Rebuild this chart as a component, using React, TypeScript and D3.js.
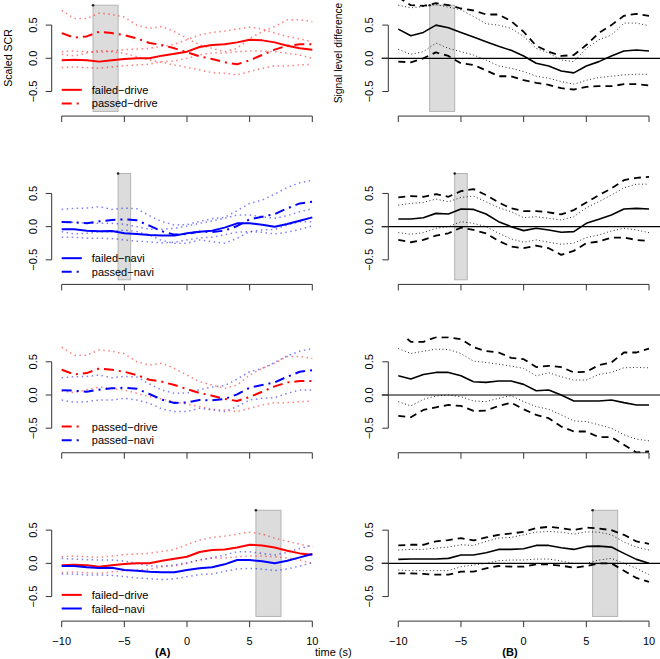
import React from 'react';
import * as d3 from 'd3';

// seconds relative to event
const times = [-10, -9, -8, -7, -6, -5, -4, -3, -2, -1, 0, 1, 2, 3, 4, 5, 6, 7, 8, 9, 10];
const yTicks = [-0.5, 0, 0.5];
const xTicks = [-10, -5, 0, 5, 10];

// (A) scaled SCR, mean and CI bounds
const failedDrive = [-0.03, -0.02, -0.03, -0.05, -0.03, -0.01, 0.0, 0.0, 0.04, 0.07, 0.1, 0.17, 0.2, 0.21, 0.24, 0.28, 0.27, 0.24, 0.19, 0.15, 0.13];
const failedDriveHi = [0.1, 0.11, 0.1, 0.09, 0.11, 0.13, 0.14, 0.15, 0.18, 0.21, 0.28, 0.35, 0.39, 0.41, 0.44, 0.47, 0.44, 0.38, 0.33, 0.29, 0.25];
const failedDriveLo = [-0.14, -0.13, -0.14, -0.15, -0.13, -0.11, -0.1, -0.09, -0.05, -0.04, 0.0, 0.05, 0.08, 0.08, 0.1, 0.11, 0.11, 0.1, 0.08, 0.05, 0.0];

const passedDrive = [0.38, 0.31, 0.33, 0.4, 0.38, 0.35, 0.3, 0.23, 0.2, 0.15, 0.09, 0.03, -0.01, -0.06, -0.09, -0.03, 0.05, 0.13, 0.19, 0.21, 0.21];
const passedDriveHi = [0.72, 0.6, 0.6, 0.68, 0.66, 0.62, 0.5, 0.45, 0.48, 0.4, 0.3, 0.2, 0.15, 0.1, 0.15, 0.3, 0.4, 0.48, 0.58, 0.58, 0.55];
const passedDriveLo = [0.06, 0.035, 0.08, 0.12, 0.1, 0.075, 0.025, -0.025, -0.06, -0.1, -0.135, -0.175, -0.215, -0.225, -0.25, -0.2, -0.15, -0.115, -0.115, -0.1, -0.09];

const failedNavi = [-0.04, -0.04, -0.06, -0.07, -0.065, -0.1, -0.11, -0.125, -0.135, -0.135, -0.1, -0.075, -0.06, -0.015, 0.05, 0.05, 0.03, 0.0, 0.04, 0.09, 0.14];
const failedNaviHi = [0.075, 0.065, 0.055, 0.05, 0.05, 0.035, 0.0, -0.04, -0.04, -0.025, 0.01, 0.05, 0.085, 0.125, 0.175, 0.175, 0.15, 0.125, 0.165, 0.225, 0.27];
const failedNaviLo = [-0.16, -0.16, -0.175, -0.175, -0.18, -0.2, -0.22, -0.23, -0.245, -0.235, -0.2, -0.17, -0.16, -0.12, -0.085, -0.075, -0.085, -0.11, -0.085, -0.04, 0.01];

const passedNavi = [0.07, 0.065, 0.05, 0.08, 0.1, 0.11, 0.095, 0.015, -0.07, -0.12, -0.11, -0.075, -0.08, -0.06, 0.01, 0.11, 0.15, 0.19, 0.275, 0.35, 0.375];
const passedNaviHi = [0.26, 0.275, 0.28, 0.3, 0.26, 0.28, 0.27, 0.165, 0.075, 0.025, 0.03, 0.08, 0.12, 0.14, 0.24, 0.35, 0.4, 0.49, 0.59, 0.66, 0.7];
const passedNaviLo = [-0.075, -0.11, -0.1, -0.075, -0.075, -0.05, -0.075, -0.125, -0.21, -0.25, -0.25, -0.2, -0.225, -0.25, -0.175, -0.075, -0.05, -0.04, 0.025, 0.075, 0.075];

// (B) signal level difference: mean, inner (dotted) and outer (dashed) bounds
const d1Mean = [0.44, 0.34, 0.39, 0.5, 0.46, 0.39, 0.32, 0.25, 0.18, 0.12, 0.035, -0.075, -0.115, -0.19, -0.22, -0.115, -0.05, 0.035, 0.11, 0.125, 0.11];
const d1DotHi = [0.8, 0.76, 0.78, 0.81, 0.77, 0.73, 0.63, 0.52, 0.5, 0.45, 0.33, 0.15, 0.08, -0.025, -0.05, 0.15, 0.28, 0.35, 0.53, 0.53, 0.49];
const d1DashHi = [0.92, 0.8, 0.79, 0.83, 0.8, 0.75, 0.72, 0.66, 0.66, 0.56, 0.4, 0.19, 0.1, 0.035, 0.05, 0.2, 0.38, 0.5, 0.64, 0.67, 0.64];
const d1DotLo = [0.135, 0.06, 0.1, 0.23, 0.15, 0.1, 0.05, -0.025, -0.115, -0.15, -0.2, -0.27, -0.3, -0.35, -0.39, -0.33, -0.29, -0.27, -0.25, -0.24, -0.24];
const d1DashLo = [-0.05, -0.06, 0.0, 0.09, 0.035, -0.075, -0.1, -0.18, -0.27, -0.27, -0.33, -0.37, -0.4, -0.45, -0.47, -0.43, -0.42, -0.42, -0.39, -0.39, -0.41];

const d2Mean = [0.115, 0.115, 0.135, 0.2, 0.19, 0.265, 0.26, 0.19, 0.075, 0.0, -0.06, -0.025, -0.05, -0.085, -0.075, 0.05, 0.11, 0.175, 0.265, 0.275, 0.265];
const d2DotHi = [0.325, 0.35, 0.365, 0.415, 0.375, 0.44, 0.46, 0.375, 0.285, 0.225, 0.135, 0.15, 0.125, 0.1, 0.15, 0.285, 0.375, 0.475, 0.585, 0.64, 0.64];
const d2DashHi = [0.44, 0.46, 0.45, 0.49, 0.45, 0.535, 0.565, 0.475, 0.365, 0.275, 0.235, 0.235, 0.215, 0.185, 0.25, 0.365, 0.475, 0.575, 0.7, 0.735, 0.75];
const d2DotLo = [-0.09, -0.115, -0.09, -0.025, 0.0, 0.075, 0.05, 0.0, -0.1, -0.185, -0.235, -0.2, -0.235, -0.265, -0.25, -0.165, -0.125, -0.065, -0.025, -0.05, -0.09];
const d2DashLo = [-0.2, -0.235, -0.2, -0.135, -0.1, -0.015, -0.05, -0.1, -0.215, -0.3, -0.325, -0.285, -0.325, -0.425, -0.365, -0.25, -0.225, -0.165, -0.165, -0.2, -0.215];

const d3Mean = [0.29, 0.24, 0.31, 0.34, 0.34, 0.29, 0.2, 0.19, 0.21, 0.21, 0.16, 0.065, 0.075, 0.0, -0.09, -0.09, -0.09, -0.075, -0.115, -0.15, -0.15];
const d3DotHi = [0.7, 0.625, 0.66, 0.69, 0.685, 0.625, 0.51, 0.49, 0.465, 0.435, 0.4, 0.29, 0.335, 0.275, 0.225, 0.225, 0.31, 0.34, 0.41, 0.415, 0.41];
const d3DashHi = [0.96, 0.8, 0.8, 0.87, 0.87, 0.84, 0.72, 0.66, 0.64, 0.56, 0.54, 0.42, 0.44, 0.42, 0.34, 0.35, 0.45, 0.49, 0.64, 0.64, 0.7];
const d3DotLo = [-0.1, -0.165, -0.065, -0.015, 0.0, -0.025, -0.09, -0.1, -0.05, -0.01, -0.1, -0.175, -0.215, -0.3, -0.39, -0.4, -0.45, -0.5, -0.6, -0.665, -0.69];
const d3DashLo = [-0.315, -0.335, -0.225, -0.185, -0.15, -0.165, -0.24, -0.235, -0.165, -0.115, -0.215, -0.3, -0.35, -0.475, -0.55, -0.55, -0.635, -0.635, -0.75, -0.865, -0.85];

const d4Mean = [0.06, 0.065, 0.065, 0.065, 0.075, 0.125, 0.125, 0.16, 0.21, 0.21, 0.22, 0.27, 0.27, 0.235, 0.21, 0.255, 0.26, 0.245, 0.15, 0.06, 0.0];
const d4DotHi = [0.2, 0.21, 0.21, 0.23, 0.245, 0.28, 0.27, 0.33, 0.38, 0.39, 0.43, 0.47, 0.48, 0.47, 0.44, 0.475, 0.47, 0.43, 0.32, 0.245, 0.2];
const d4DashHi = [0.27, 0.28, 0.28, 0.33, 0.35, 0.38, 0.345, 0.39, 0.43, 0.45, 0.475, 0.53, 0.55, 0.53, 0.5, 0.54, 0.525, 0.5, 0.43, 0.33, 0.295];
const d4DotLo = [-0.1, -0.11, -0.11, -0.11, -0.11, -0.05, -0.025, 0.0, 0.04, 0.05, 0.05, 0.065, 0.065, 0.035, 0.0, 0.0, 0.05, 0.075, 0.0, -0.075, -0.17];
const d4DashLo = [-0.15, -0.15, -0.16, -0.17, -0.17, -0.125, -0.125, -0.075, -0.04, -0.05, -0.05, -0.015, -0.015, -0.035, -0.065, -0.04, 0.0, 0.0, -0.11, -0.22, -0.28];

// significant windows (s) per row, null = none
const windows: ([number, number] | null)[] = [[-7.5, -5.5], [-5.5, -4.5], null, [5.5, 7.5]];

const W = 660;
const H = 659;
const FONT = 'Liberation Sans, Arial, Helvetica, sans-serif';
const RED = '#ff0000';
const BLUE = '#0000ff';

const rowZero = (i: number) => 58.3 + i * 168.35;
const yScaleFor = (i: number) =>
  d3.scaleLinear().domain([-0.5, 0.5]).range([rowZero(i) + 33.2, rowZero(i) - 33.2]);

const xLeft = d3.scaleLinear().domain([-10, 10]).range([61.7, 312.3]);
const xRight = d3.scaleLinear().domain([-10, 10]).range([398.3, 649]);
const fmt = d3.format('.1f');

type Style = { color: string; width: number; dash?: string; opacity?: number };

const solid = (c: string): Style => ({ color: c, width: 2 });
const dashDot = (c: string): Style => ({ color: c, width: 2, dash: '10,5,2,5' });
const dotted = (c: string): Style => ({ color: c, width: 1.5, dash: '1.5,3.5', opacity: 0.5 });

function Series({ values, x, y, st }: { values: number[]; x: any; y: any; st: Style }) {
  const line = d3
    .line<number>()
    .x((_, i) => x(times[i]))
    .y((d) => y(d));
  return (
    <path
      d={line(values) || ''}
      fill="none"
      stroke={st.color}
      strokeWidth={st.width}
      strokeDasharray={st.dash}
      strokeOpacity={st.opacity ?? 1}
      strokeLinejoin="round"
    />
  );
}

function YAxis({ y, ax }: { y: any; ax: number }) {
  return (
    <g stroke="#333" fill="none">
      <line x1={ax} x2={ax} y1={y(-0.5)} y2={y(0.5)} />
      {yTicks.map((t) => (
        <g key={t}>
          <line x1={ax - 6} x2={ax} y1={y(t)} y2={y(t)} />
          <text
            x={0}
            y={0}
            transform={`translate(${ax - 19},${y(t)}) rotate(-90)`}
            textAnchor="middle"
            dominantBaseline="central"
            fill="#000"
            stroke="none"
            fontSize={11}
            fontFamily={FONT}
          >
            {fmt(t)}
          </text>
        </g>
      ))}
    </g>
  );
}

function XAxis({ x, yLine, labels }: { x: any; yLine: number; labels: boolean }) {
  return (
    <g stroke="#333" fill="none">
      <line x1={x(-10)} x2={x(10)} y1={yLine} y2={yLine} />
      {xTicks.map((t) => (
        <g key={t}>
          <line x1={x(t)} x2={x(t)} y1={yLine} y2={yLine + 6} />
          {labels && (
            <text
              x={x(t)}
              y={yLine + 19.7}
              textAnchor="middle"
              dominantBaseline="central"
              fill="#000"
              stroke="none"
              fontSize={11}
              fontFamily={FONT}
            >
              {d3.format('d')(t)}
            </text>
          )}
        </g>
      ))}
    </g>
  );
}

function Window({ x, y, win }: { x: any; y: any; win: [number, number] | null }) {
  if (!win) return null;
  return (
    <g>
      <rect
        x={x(win[0])}
        y={y(0.8)}
        width={x(win[1]) - x(win[0])}
        height={y(-0.8) - y(0.8)}
        fill="#dcdcdc"
        stroke="#b4b4b4"
        strokeWidth={1}
      />
      <circle cx={x(win[0])} cy={y(0.8)} r={1.3} fill="#222" />
    </g>
  );
}

type Entry = { label: string; values: number[]; hi: number[]; lo: number[]; color: string; kind: 'solid' | 'dashdot' };

function LeftPanel({ row, entries }: { row: number; entries: Entry[] }) {
  const y = yScaleFor(row);
  const clipId = `clipL${row}`;
  return (
    <g>
      <defs>
        <clipPath id={clipId}>
          <rect x={40} y={y(0.88)} width={290} height={y(-0.88) - y(0.88)} />
        </clipPath>
      </defs>
      <Window x={xLeft} y={y} win={windows[row]} />
      <g clipPath={`url(#${clipId})`}>
        {entries.map((e, k) => (
          <g key={k}>
            <Series values={e.hi} x={xLeft} y={y} st={dotted(e.color)} />
            <Series values={e.lo} x={xLeft} y={y} st={dotted(e.color)} />
          </g>
        ))}
        {entries.map((e, k) => (
          <Series key={k} values={e.values} x={xLeft} y={y} st={e.kind === 'solid' ? solid(e.color) : dashDot(e.color)} />
        ))}
      </g>
      <YAxis y={y} ax={51.7} />
      <XAxis x={xLeft} yLine={y(-0.87)} labels={row === 3} />
      {entries.map((e, k) => {
        const ly = y(-0.475 - k * 0.205);
        const st = e.kind === 'solid' ? solid(e.color) : dashDot(e.color);
        return (
          <g key={k}>
            <line
              x1={xLeft(-10)}
              x2={xLeft(-8.4)}
              y1={ly}
              y2={ly}
              stroke={st.color}
              strokeWidth={st.width}
              strokeDasharray={st.dash}
            />
            <text x={xLeft(-7.6)} y={ly} dominantBaseline="central" fontSize={11} fontFamily={FONT} fill="#000">
              {e.label}
            </text>
          </g>
        );
      })}
    </g>
  );
}

function RightPanel({ row, mean, dotHi, dotLo, dashHi, dashLo }: any) {
  const y = yScaleFor(row);
  const clipId = `clipR${row}`;
  const dashed: Style = { color: '#000', width: 1.8, dash: '7,5' };
  const dots: Style = { color: '#000', width: 1, dash: '1,2.5', opacity: 0.85 };
  return (
    <g>
      <defs>
        <clipPath id={clipId}>
          <rect x={370} y={y(0.88)} width={290} height={y(-0.88) - y(0.88)} />
        </clipPath>
      </defs>
      <Window x={xRight} y={y} win={windows[row]} />
      <line x1={381.7} x2={W} y1={y(0)} y2={y(0)} stroke="#000" strokeWidth={1.2} />
      <g clipPath={`url(#${clipId})`}>
        <Series values={dashHi} x={xRight} y={y} st={dashed} />
        <Series values={dashLo} x={xRight} y={y} st={dashed} />
        <Series values={dotHi} x={xRight} y={y} st={dots} />
        <Series values={dotLo} x={xRight} y={y} st={dots} />
        <Series values={mean} x={xRight} y={y} st={{ color: '#000', width: 1.6 }} />
      </g>
      <YAxis y={y} ax={388.3} />
      <XAxis x={xRight} yLine={y(-0.87)} labels={row === 3} />
    </g>
  );
}

export default function App() {
  const fd: Entry = { label: 'failed\u2212drive', values: failedDrive, hi: failedDriveHi, lo: failedDriveLo, color: RED, kind: 'solid' };
  const pd: Entry = { label: 'passed\u2212drive', values: passedDrive, hi: passedDriveHi, lo: passedDriveLo, color: RED, kind: 'dashdot' };
  const fn: Entry = { label: 'failed\u2212navi', values: failedNavi, hi: failedNaviHi, lo: failedNaviLo, color: BLUE, kind: 'solid' };
  const pn: Entry = { label: 'passed\u2212navi', values: passedNavi, hi: passedNaviHi, lo: passedNaviLo, color: BLUE, kind: 'dashdot' };

  return (
    <svg
      width={W}
      height={H}
      viewBox={`0 0 ${W} ${H}`}
      style={{ position: 'absolute', left: 0, top: 0, background: '#fff' }}
    >
      <rect x={0} y={0} width={W} height={H} fill="#fff" />
      <LeftPanel row={0} entries={[fd, pd]} />
      <LeftPanel row={1} entries={[fn, pn]} />
      <LeftPanel row={2} entries={[pd, pn]} />
      <LeftPanel row={3} entries={[fd, fn]} />

      <RightPanel row={0} mean={d1Mean} dotHi={d1DotHi} dotLo={d1DotLo} dashHi={d1DashHi} dashLo={d1DashLo} />
      <RightPanel row={1} mean={d2Mean} dotHi={d2DotHi} dotLo={d2DotLo} dashHi={d2DashHi} dashLo={d2DashLo} />
      <RightPanel row={2} mean={d3Mean} dotHi={d3DotHi} dotLo={d3DotLo} dashHi={d3DashHi} dashLo={d3DashLo} />
      <RightPanel row={3} mean={d4Mean} dotHi={d4DotHi} dotLo={d4DotLo} dashHi={d4DashHi} dashLo={d4DashLo} />

      <text
        transform={`translate(8.3,58) rotate(-90)`}
        textAnchor="middle"
        dominantBaseline="central"
        fontSize={10.6}
        fontFamily={FONT}
      >
        Scaled SCR
      </text>
      <text
        transform={`translate(338.3,53) rotate(-90)`}
        textAnchor="middle"
        dominantBaseline="central"
        fontSize={10.3}
        fontFamily={FONT}
      >
        Signal level difference
      </text>

      <text x={162.7} y={652.3} textAnchor="middle" dominantBaseline="central" fontSize={11} fontWeight="bold" fontFamily={FONT}>
        (A)
      </text>
      <text x={510} y={652.3} textAnchor="middle" dominantBaseline="central" fontSize={11} fontWeight="bold" fontFamily={FONT}>
        (B)
      </text>
      <text x={315} y={652.3} dominantBaseline="central" fontSize={11} fontFamily={FONT}>
        time (s)
      </text>
    </svg>
  );
}
